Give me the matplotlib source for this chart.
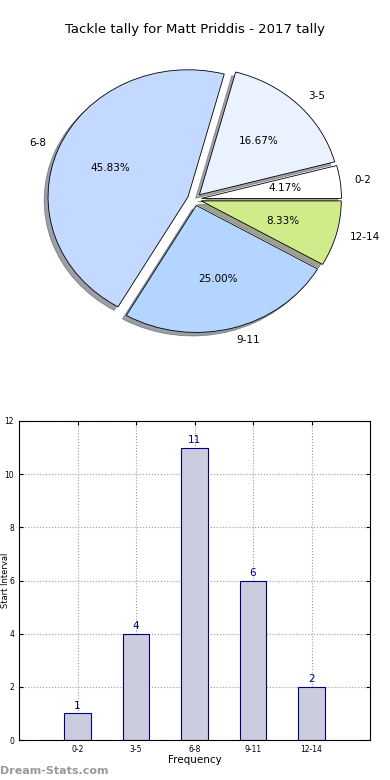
import matplotlib
matplotlib.use("Agg")
import matplotlib.pyplot as plt

categories = ["0-2", "3-5", "6-8", "9-11", "12-14"]
counts = [1, 4, 11, 6, 2]
pie_colors = ["#ffffff", "#eaf1ff", "#c4d9ff", "#b3d5ff", "#d0eb8a"]
title = "Tackle tally for Matt Priddis - 2017 tally"

fig = plt.figure(figsize=(3.9, 7.8), dpi=100)

# pie chart on top (old-style, not forced round)
ax1 = fig.add_axes([40.5 / 390, 1 - 339 / 780, 308 / 390, 279.5 / 780])
ax1.pie(counts, labels=categories, colors=pie_colors, explode=[0.05] * 5,
        autopct="%1.2f%%", shadow=True, startangle=0,
        wedgeprops={"edgecolor": "black", "linewidth": 0.6},
        textprops={"fontsize": 7.5})
ax1.set_aspect("auto")
ax1.set_xlim(-1.1, 1.1)
ax1.set_ylim(-1.1, 1.1)
fig.text(0.5, 1 - 30 / 780, title, ha="center", va="center", fontsize=9.5)

# bar chart below
ax2 = fig.add_axes([19 / 390, 1 - 740 / 780, 351 / 390, 319 / 780])
x = list(range(len(categories)))
bars = ax2.bar(x, counts, width=0.45, color="#ccccdf", edgecolor="#000080", linewidth=0.8, zorder=2)
for xi, c in zip(x, counts):
    ax2.text(xi, c + 0.1, str(c), ha="center", va="bottom", color="#000080", fontsize=7.5)
ax2.set_xlim(-1, 5)
ax2.set_ylim(0, 12)
ax2.set_xticks(x)
ax2.set_xticklabels(categories)
ax2.set_yticks(range(0, 13, 2))
ax2.tick_params(labelsize=5.5, direction="in", length=3, top=True, right=True)
ax2.grid(True, linestyle=":", color="#999999", linewidth=0.8, zorder=0)
ax2.set_axisbelow(True)
ax2.set_xlabel("Frequency", fontsize=7.5, labelpad=1)
ax2.set_ylabel("Start Interval", fontsize=6, va="center")
ax2.yaxis.set_label_coords(-0.038, 0.5)

fig.text(0.0, 1 - 771 / 780, "Dream-Stats.com", ha="left", va="center",
         fontsize=8, color="#999999", fontweight="bold")

fig.savefig("out.png", dpi=100)
